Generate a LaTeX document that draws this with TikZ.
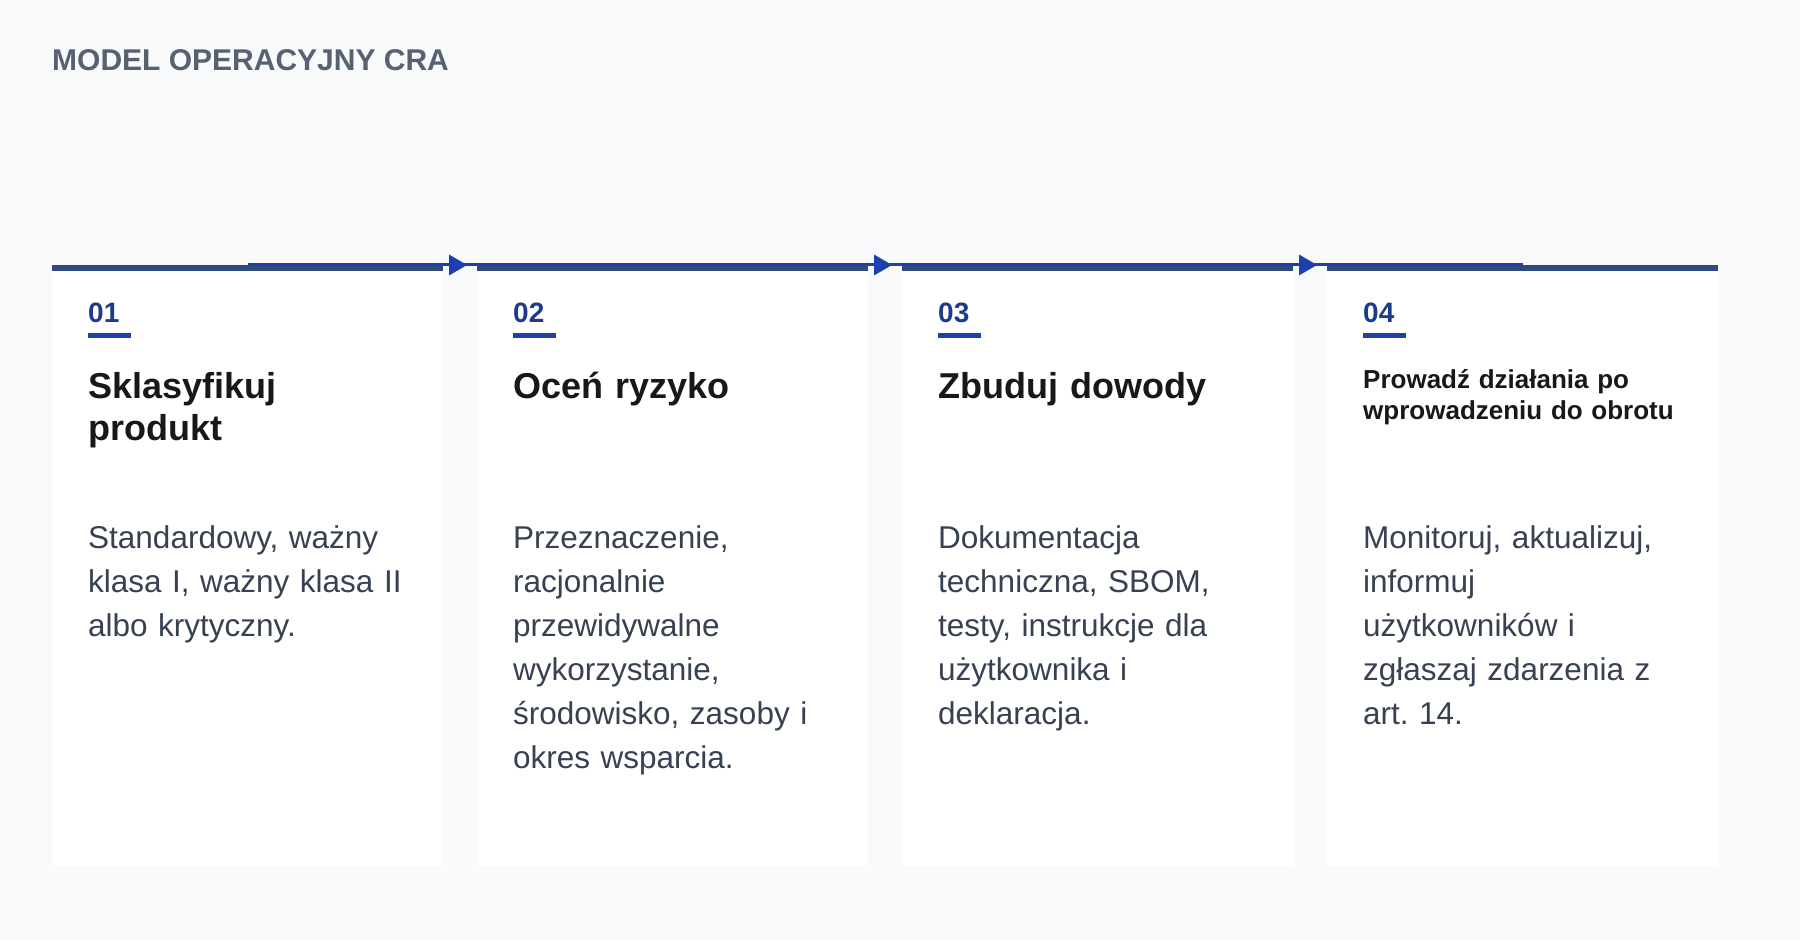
\documentclass[tikz,border=0pt]{standalone}
\usepackage{fontspec}
\setmainfont{Liberation Sans}
\usetikzlibrary{decorations.markings}
\frenchspacing
\definecolor{bgc}{HTML}{F8FAFC}
\definecolor{barc}{HTML}{2F4B7C}
\definecolor{linec}{HTML}{1E40AF}
\definecolor{numc}{HTML}{1E3A8A}
\definecolor{ttlc}{HTML}{18181B}
\definecolor{bodyc}{HTML}{374151}
\definecolor{hdrc}{HTML}{566172}
\begin{document}
\begin{tikzpicture}[x=1pt,y=1pt,
  card/.style={fill=white, draw=none, minimum width=391pt, minimum height=601pt, inner sep=0pt, outer sep=0pt},
  hdr/.style={anchor=base west, inner sep=0pt, text=hdrc, font=\bfseries\fontsize{30}{36}\selectfont},
  numtxt/.style={anchor=base west, inner sep=0pt, text=numc, font=\bfseries\fontsize{28}{32}\selectfont},
  ttl/.style={anchor=base west, inner sep=0pt, text=ttlc, font=\bfseries\fontsize{36}{41.4}\selectfont, text width=340pt, align=left},
  ttlsmall/.style={anchor=base west, inner sep=0pt, text=ttlc, font=\bfseries\fontsize{26}{31}\selectfont, text width=340pt, align=left},
  bodytxt/.style={anchor=base west, inner sep=0pt, text=bodyc, font=\frenchspacing\fontsize{31.5}{44.1}\selectfont, text width=340pt, align=left},
  numbar/.style={fill=linec},
  conn/.style={draw=linec, line width=3pt, postaction={decorate},
    decoration={markings, mark=at position 0.5 with {\fill[linec] (-11pt,-10.5pt) -- (7pt,0pt) -- (-11pt,10.5pt) -- cycle;}}},
]
\useasboundingbox (0,0) rectangle (1800,940);
\fill[bgc] (0,0) rectangle (1800,940);

\node[hdr] (hdr) at (52,869.5) {MODEL OPERACYJNY CRA};

% cards
\node[card] (c1) at (247.5,374.5) {};
\node[card] (c2) at (672.5,374.5) {};
\node[card] (c3) at (1097.5,374.5) {};
\node[card] (c4) at (1522.5,374.5) {};

\foreach \c in {c1,c2,c3,c4} {
  \fill[barc] (\c.north west) rectangle ([yshift=-6.5pt]\c.north east);
}

% connectors
\draw[conn] (c1.north) -- (c2.north);
\draw[conn] (c2.north) -- (c3.north);
\draw[conn] (c3.north) -- (c4.north);

% card 1
\node[numtxt] (n1) at (88,617) {01};
\fill[numbar] (88,602) rectangle (131,607);
\node[ttl] (t1) at (88,541) {Sklasyfikuj\\produkt};
\node[bodytxt] (b1) at (88,391.5) {Standardowy, ważny\\klasa I, ważny klasa II\\albo krytyczny.};

% card 2
\node[numtxt] (n2) at (513,617) {02};
\fill[numbar] (513,602) rectangle (556,607);
\node[ttl] (t2) at (513,541) {Oceń ryzyko};
\node[bodytxt] (b2) at (513,391.5) {Przeznaczenie,\\racjonalnie\\przewidywalne\\wykorzystanie,\\środowisko, zasoby i\\okres wsparcia.};

% card 3
\node[numtxt] (n3) at (938,617) {03};
\fill[numbar] (938,602) rectangle (981,607);
\node[ttl] (t3) at (938,541) {Zbuduj dowody};
\node[bodytxt] (b3) at (938,391.5) {Dokumentacja\\techniczna, SBOM,\\testy, instrukcje dla\\użytkownika i\\deklaracja.};

% card 4
\node[numtxt] (n4) at (1363,617) {04};
\fill[numbar] (1363,602) rectangle (1406,607);
\node[ttlsmall] (t4) at (1363,551) {Prowadź działania po\\wprowadzeniu do obrotu};
\node[bodytxt] (b4) at (1363,391.5) {Monitoruj, aktualizuj,\\informuj\\użytkowników i\\zgłaszaj zdarzenia z\\art. 14.};
\end{tikzpicture}
\end{document}
